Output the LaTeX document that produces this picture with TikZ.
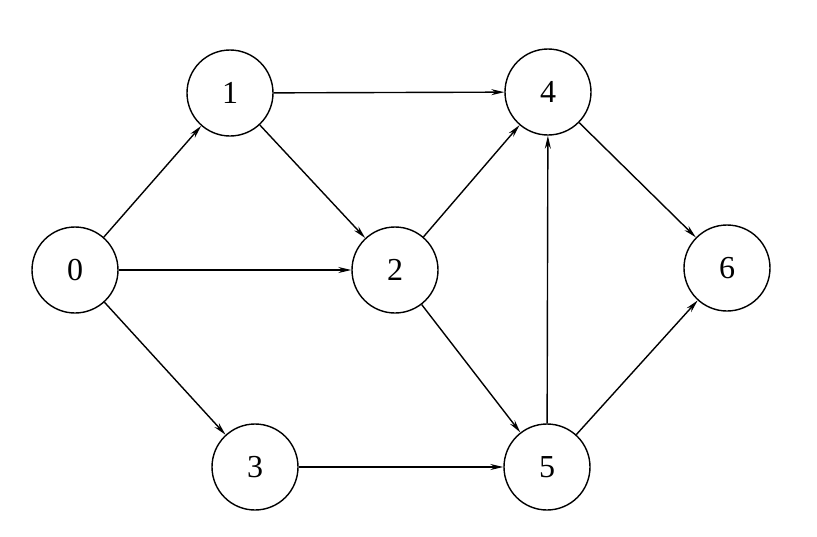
\documentclass[tikz,border=0pt]{standalone}
\usepackage{fontspec}
\setmainfont{Liberation Serif}
\usetikzlibrary{arrows.meta}
\begin{document}
\begin{tikzpicture}[x=1pt,y=-1pt,
  vtx/.style={circle,draw,line width=1.4pt,minimum size=86pt,inner sep=0pt,font=\fontsize{32}{34}\selectfont},
  edge/.style={line width=1.4pt,-{Stealth[length=13pt,width=6pt]}}]
\useasboundingbox (0,0) rectangle (817,536);
\node[vtx] (n0) at (75,270) {0};
\node[vtx] (n1) at (230,93) {1};
\node[vtx] (n4) at (548,92) {4};
\node[vtx] (n2) at (395,270) {2};
\node[vtx] (n6) at (727,268) {6};
\node[vtx] (n3) at (255,467) {3};
\node[vtx] (n5) at (547,467) {5};
\draw[edge] (n0) -- (n1);
\draw[edge] (n0) -- (n2);
\draw[edge] (n0) -- (n3);
\draw[edge] (n1) -- (n4);
\draw[edge] (n1) -- (n2);
\draw[edge] (n2) -- (n4);
\draw[edge] (n2) -- (n5);
\draw[edge] (n3) -- (n5);
\draw[edge] (n5) -- (n4);
\draw[edge] (n5) -- (n6);
\draw[edge] (n4) -- (n6);
\end{tikzpicture}
\end{document}
